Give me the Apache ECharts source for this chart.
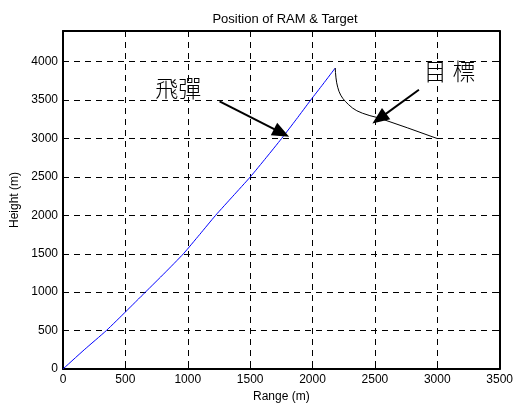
<!DOCTYPE html>
<html>
<head>
<meta charset="utf-8">
<script src="https://cdn.jsdelivr.net/npm/echarts@6/dist/echarts.min.js"></script>
<style>html,body{margin:0;padding:0;background:#fff}#c{width:516px;height:408px}</style>
</head>
<body>
<div id="c"></div>
<script>
var xTicks = [0, 500, 1000, 1500, 2000, 2500, 3000, 3500];
var yTicks = [0, 500, 1000, 1500, 2000, 2500, 3000, 3500, 4000];
var missileRange = [0, 170, 347, 505, 660, 815, 965, 1095, 1223, 1362, 1501, 1628, 1752, 1870, 1985, 2085, 2182];
var missileHeight = [0, 250, 500, 750, 1000, 1250, 1500, 1750, 2000, 2250, 2500, 2750, 3000, 3250, 3500, 3710, 3918];
var targetRange = [2182, 2184, 2188, 2194, 2202, 2212, 2226, 2243, 2265, 2290, 2320, 2355, 2400, 2460, 2530, 2760, 3000];
var targetHeight = [3918, 3860, 3790, 3725, 3668, 3615, 3565, 3522, 3480, 3440, 3398, 3362, 3330, 3298, 3269, 3140, 3000];
var labelMissile = '飛彈';
var labelTarget = '目標';
var arrowMissile = [[1255, 3485], [1752, 3074]];
var arrowTarget = [[2853, 3636], [2535, 3260]];
var textMissilePos = [923, 3649];
var textTargetPos = [3100, 3870];

function zip(a, b) { return a.map(function (v, i) { return [v, b[i]]; }); }

var font = 'Liberation Sans, Arial, sans-serif';
var chart = echarts.init(document.getElementById('c'), null, {renderer: 'canvas'});
var axisCommon = {
  min: 0, interval: 500,
  axisLine: {show: true, onZero: false, lineStyle: {color: '#000', width: 2}},
  axisTick: {show: true, inside: true, length: 5, lineStyle: {color: '#000', width: 1}},
  splitLine: {show: true, lineStyle: {color: '#000', type: [6, 5], width: 1}},
  axisLabel: {color: '#000', fontSize: 12, fontFamily: font}
};
chart.setOption({
  animation: false,
  backgroundColor: '#fff',
  title: {
    text: 'Position of RAM & Target', left: 280, top: 8, textAlign: 'center',
    textStyle: {fontSize: 13, fontWeight: 'normal', color: '#000', fontFamily: font}
  },
  grid: {left: 63, right: 13, top: 31, bottom: 38},
  xAxis: [
    Object.assign({}, axisCommon, {
      type: 'value', max: 3500, position: 'bottom',
      name: 'Range (m)', nameLocation: 'middle', nameGap: 22,
      nameTextStyle: {fontSize: 12, color: '#000', fontFamily: font},
      axisLabel: Object.assign({}, axisCommon.axisLabel, {margin: 5,
        formatter: function (v) { return xTicks.indexOf(v) >= 0 ? String(v) : ''; }})
    }),
    Object.assign({}, axisCommon, {
      type: 'value', max: 3500, position: 'top',
      axisLabel: {show: false}, splitLine: {show: false}
    })
  ],
  yAxis: [
    Object.assign({}, axisCommon, {
      type: 'value', max: 4400, position: 'left',
      name: 'Height (m)', nameLocation: 'middle', nameGap: 42,
      nameTextStyle: {fontSize: 12, color: '#000', fontFamily: font},
      axisLabel: Object.assign({}, axisCommon.axisLabel, {margin: 5, showMaxLabel: false,
        formatter: function (v) { return yTicks.indexOf(v) >= 0 ? String(v) : ''; }})
    }),
    Object.assign({}, axisCommon, {
      type: 'value', max: 4400, position: 'right',
      axisLabel: {show: false}, splitLine: {show: false}
    })
  ],
  series: [
    {
      type: 'line', data: zip(missileRange, missileHeight), smooth: 0.2,
      symbol: 'none', lineStyle: {color: '#0000ff', width: 1}, z: 3,
      markLine: {
        silent: true, symbol: ['none', 'triangle'], symbolSize: [14, 17],
        lineStyle: {color: '#000', width: 2, type: 'solid'},
        label: {show: false},
        data: [[{coord: arrowMissile[0]}, {coord: arrowMissile[1]}]]
      },
      markPoint: {
        silent: true, symbol: 'circle', symbolSize: 0,
        label: {show: true, position: 'inside', color: '#000', fontSize: 23,
          fontFamily: 'Noto Sans CJK TC', fontWeight: 300},
        data: [{coord: textMissilePos, value: labelMissile, label: {formatter: labelMissile}}]
      }
    },
    {
      type: 'line', data: zip(targetRange, targetHeight),
      symbol: 'none', lineStyle: {color: '#000', width: 1}, z: 3,
      markLine: {
        silent: true, symbol: ['none', 'triangle'], symbolSize: [14, 17],
        lineStyle: {color: '#000', width: 2, type: 'solid'},
        label: {show: false},
        data: [[{coord: arrowTarget[0]}, {coord: arrowTarget[1]}]]
      },
      markPoint: {
        silent: true, symbol: 'circle', symbolSize: 0,
        label: {show: true, position: 'inside', color: '#000', fontSize: 23,
          fontFamily: 'Noto Sans CJK TC', fontWeight: 300},
        data: [{coord: textTargetPos, value: labelTarget, label: {formatter: '目\u2005標'}}]
      }
    }
  ]
});
</script>
</body>
</html>
